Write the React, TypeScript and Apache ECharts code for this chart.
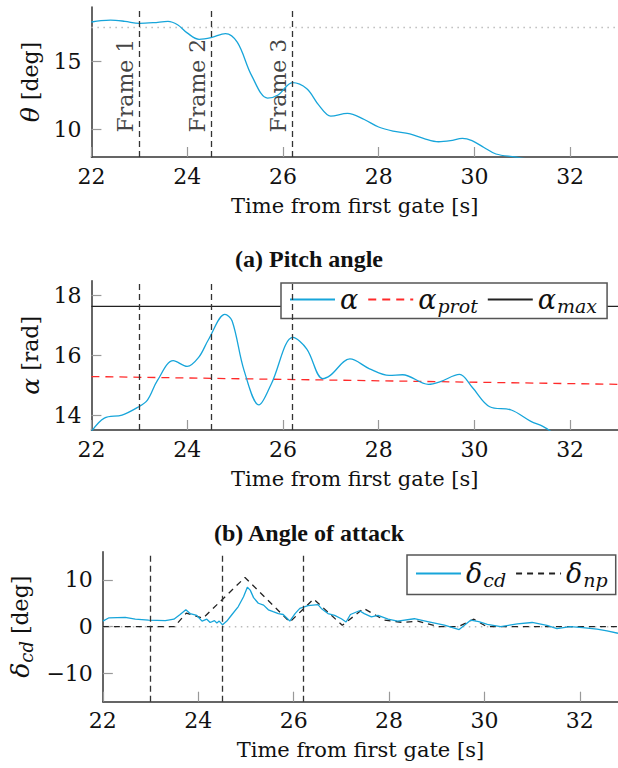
import React, { useEffect, useRef } from "react";
import * as echarts from "echarts";

// ---------- data ----------
const xTicks = [22, 24, 26, 28, 30, 32];
const timeSpanAB = [22, 33];
const timeSpanC = [22, 32.8];
const frameTimes = [23, 24.5, 26.2];
const frameNames = ["Frame 1", "Frame 2", "Frame 3"];
const frameLabelTheta = 9.8;

// (a) pitch angle
const thetaTime = [22.0, 22.2, 22.4, 22.7, 23.0, 23.3, 23.6, 23.8, 24.0, 24.25, 24.5, 24.8, 25.05, 25.35, 25.68, 25.9, 26.2, 26.5, 26.75, 27.0, 27.35, 27.7, 28.0, 28.3, 28.65, 28.95, 29.25, 29.5, 29.75, 29.95, 30.2, 30.45, 30.85, 31.2];
const thetaDeg = [17.9, 18.0, 18.04, 17.95, 17.8, 17.85, 17.95, 17.7, 17.1, 16.63, 16.75, 17.05, 16.4, 13.95, 12.32, 12.55, 13.45, 13.0, 11.8, 11.0, 11.2, 10.75, 10.2, 9.9, 9.7, 9.35, 9.12, 9.2, 9.37, 9.2, 8.7, 8.22, 8.0, 7.8];
const thetaRef = 17.5;
const thetaTicks = [10, 15];

// (b) angle of attack
const alphaTime = [22.0, 22.27, 22.64, 22.97, 23.17, 23.38, 23.71, 24.0, 24.24, 24.45, 24.79, 24.94, 25.19, 25.5, 25.76, 26.21, 26.5, 26.83, 26.99, 27.4, 27.81, 28.22, 28.5, 29.04, 29.29, 29.69, 29.95, 30.32, 30.77, 31.18, 31.43, 31.6, 31.8];
const alphaVal = [13.45, 13.9, 14.0, 14.26, 14.5, 15.16, 15.82, 15.63, 15.93, 16.54, 17.37, 17.15, 15.49, 14.34, 15.05, 16.6, 16.21, 15.22, 15.33, 15.88, 15.55, 15.33, 15.35, 15.03, 15.12, 15.36, 14.94, 14.28, 14.17, 13.79, 13.62, 13.45, 13.2];
const alphaProtVal = [15.29, 15.03];
const alphaMax = 17.64;
const alphaTicks = [14, 16, 18];

// (c) control deflection
const deltaCdTime = [22.0, 22.13, 22.47, 22.68, 22.96, 23.31, 23.49, 23.62, 23.74, 23.83, 23.97, 24.08, 24.18, 24.25, 24.34, 24.39, 24.44, 24.51, 24.6, 24.7, 24.84, 24.95, 25.03, 25.09, 25.16, 25.26, 25.37, 25.47, 25.57, 25.68, 25.78, 25.92, 26.03, 26.13, 26.3, 26.51, 26.58, 26.72, 26.86, 27.0, 27.1, 27.19, 27.38, 27.48, 27.63, 27.77, 27.98, 28.18, 28.53, 28.81, 29.16, 29.47, 29.71, 29.88, 30.06, 30.34, 30.69, 31.0, 31.31, 31.52, 31.8, 32.06, 32.36, 32.57, 32.8];
const deltaCdVal = [1.2, 1.9, 2.0, 1.6, 1.4, 1.3, 1.6, 2.6, 3.6, 2.8, 2.4, 1.2, 1.6, 0.9, 1.3, 0.8, 1.2, 0.4, 1.2, 2.5, 4.3, 6.4, 8.4, 7.8, 6.2, 5.0, 4.6, 3.6, 3.2, 2.8, 2.6, 1.2, 2.8, 3.9, 4.5, 4.7, 3.9, 2.8, 2.4, 1.7, 1.0, 2.6, 3.4, 2.8, 2.1, 2.4, 1.6, 1.2, 1.7, 1.1, 0.35, -0.6, 1.4, 1.1, 0.5, 0.0, 0.6, 0.9, 0.3, -0.4, 0.0, -0.2, -0.5, -0.9, -1.4];
const deltaNpTime = [22, 23.5, 23.75, 24.1, 24.98, 25.92, 26.42, 27.02, 27.47, 27.9, 28.3, 28.6, 29.05, 29.45, 29.78, 30.05, 32.8];
const deltaNpVal = [0, 0, 2.9, 1.8, 10.5, 1.0, 5.9, 0.3, 3.9, 1.4, 0.9, 1.2, 0, 0, 1.6, 0, 0];
const deltaTicks = [-10, 0, 10];

const legendLabels: Record<string, string> = {
  alpha: "{a|α}",
  alphaProt: "{a|α}{s|prot}",
  alphaMax: "{a|α}{s|max}",
  deltaCd: "{a|δ}{s|cd}",
  deltaNp: "{a|δ}{s|np}",
};

// ---------- styling ----------
const SERIF = "'DejaVu Serif', serif";
const BLUE = "#17a5da";
const INK = "#111";
const zip = (a: number[], b: number[]) => a.map((x, i) => [x, b[i]]);
const minus = (v: number) => String(v).replace("-", "\u2212");

const mathRich = {
  i: { fontFamily: SERIF, fontStyle: "italic", fontSize: 25, color: INK },
  s: { fontFamily: SERIF, fontStyle: "italic", fontSize: 18, color: INK, padding: [12, 0, 0, 0] },
};

function xAxis(gridIndex: number, max: number) {
  return {
    type: "value",
    gridIndex,
    min: 22,
    max,
    axisLine: { show: true, onZero: false, lineStyle: { color: "#333", width: 1.5 } },
    axisTick: { show: true, inside: true, length: 10, customValues: xTicks, lineStyle: { color: "#999", width: 1.2 } },
    axisLabel: { customValues: xTicks, margin: 8, color: INK, fontFamily: SERIF, fontSize: 22 },
    splitLine: { show: false },
    name: "Time from first gate [s]",
    nameLocation: "middle",
    nameGap: 38,
    nameTextStyle: { fontFamily: SERIF, fontSize: 21, color: INK },
  };
}

function yAxis(gridIndex: number, min: number, max: number, ticks: number[], name: string, gap: number) {
  return {
    type: "value",
    gridIndex,
    min,
    max,
    axisLine: { show: true, onZero: false, lineStyle: { color: "#333", width: 1.5 } },
    axisTick: { show: true, inside: true, length: 10, customValues: ticks, lineStyle: { color: "#999", width: 1.2 } },
    axisLabel: { customValues: ticks, margin: 10, color: INK, fontFamily: SERIF, fontSize: 22, formatter: minus },
    splitLine: { show: false },
    name,
    nameLocation: "middle",
    nameGap: gap,
    nameRotate: 90,
    nameTextStyle: { fontFamily: SERIF, fontSize: 22, color: INK, rich: mathRich },
  };
}

function frameMarks() {
  return {
    symbol: "none",
    silent: true,
    label: { show: false },
    lineStyle: { type: [6, 4], color: "#333", width: 1.3 },
    data: frameTimes.map((t) => ({ xAxis: t })),
  };
}

const legendBase = {
  orient: "horizontal",
  itemWidth: 45,
  itemHeight: 14,
  itemGap: 9,
  selectedMode: false,
  borderColor: "#555",
  borderWidth: 1.5,
  borderRadius: 0,
  backgroundColor: "#fff",
  itemStyle: { opacity: 0 },
  formatter: (name: string) => legendLabels[name],
  textStyle: {
    fontFamily: SERIF,
    color: INK,
    fontSize: 23,
    rich: {
      a: { fontFamily: SERIF, fontStyle: "italic", fontSize: 27, color: INK },
      s: { fontFamily: SERIF, fontStyle: "italic", fontSize: 19, color: INK, padding: [13, 0, 0, 1] },
    },
  },
};

export default function App() {
  const ref = useRef<HTMLDivElement>(null);
  useEffect(() => {
    if (!ref.current) return;
    const chart = echarts.init(ref.current, undefined, { renderer: "svg" });
    chart.setOption({
      animation: false,
      backgroundColor: "#fff",
      title: [
        { text: "(a) Pitch angle", left: "center", top: 247, padding: 0, textStyle: { fontFamily: "'Liberation Serif', serif", fontWeight: "bold", fontSize: 24, color: INK } },
        { text: "(b) Angle of attack", left: "center", top: 521, padding: 0, textStyle: { fontFamily: "'Liberation Serif', serif", fontWeight: "bold", fontSize: 24, color: INK } },
      ],
      grid: [
        { left: 91.4, right: 0, top: 7, height: 150 },
        { left: 91.4, right: 0, top: 280.7, height: 149.3 },
        { left: 100.5, right: 0, top: 551.7, height: 150 },
      ],
      xAxis: [xAxis(0, timeSpanAB[1]), xAxis(1, timeSpanAB[1]), xAxis(2, timeSpanC[1])],
      yAxis: [
        yAxis(0, 8, 19, thetaTicks, "{i|θ} [deg]", 47),
        yAxis(1, 13.5, 18.5, alphaTicks, "{i|α} [rad]", 47),
        yAxis(2, -16, 16, deltaTicks, "{i|δ}{s|cd} [deg]", 64),
      ],
      legend: [
        { ...legendBase, data: ["alpha", "alphaProt", "alphaMax"], left: 281, top: 283, padding: [3, 10, 3, 8] },
        { ...legendBase, data: ["deltaCd", "deltaNp"], left: 407, top: 555, padding: [5, 8, 5, 8] },
      ],
      series: [
        {
          name: "thetaRef", type: "line", xAxisIndex: 0, yAxisIndex: 0, symbol: "none", silent: true,
          data: timeSpanAB.map((t) => [t, thetaRef]),
          lineStyle: { color: "#bbb", width: 1.5, type: [1.5, 4.5] },
        },
        {
          name: "theta", type: "line", xAxisIndex: 0, yAxisIndex: 0, symbol: "none", smooth: 0.35,
          data: zip(thetaTime, thetaDeg),
          lineStyle: { color: BLUE, width: 1.3 },
          markLine: frameMarks(),
        },
        {
          name: "frames", type: "scatter", xAxisIndex: 0, yAxisIndex: 0, symbolSize: 0, silent: true,
          data: frameTimes.map((t) => [t, frameLabelTheta]),
          label: {
            show: true, position: "inside", rotate: 90, align: "left", verticalAlign: "bottom",
            formatter: (p: any) => frameNames[p.dataIndex],
            fontFamily: SERIF, fontSize: 22, color: INK, offset: [0, -3],
          },
        },
        {
          name: "alphaProt", type: "line", xAxisIndex: 1, yAxisIndex: 1, symbol: "none",
          data: zip(timeSpanAB, alphaProtVal),
          lineStyle: { color: "#ff2a2a", width: 1.3, type: [8, 6] },
          itemStyle: { color: "#ff2a2a" },
        },
        {
          name: "alphaMax", type: "line", xAxisIndex: 1, yAxisIndex: 1, symbol: "none",
          data: timeSpanAB.map((t) => [t, alphaMax]),
          lineStyle: { color: "#222", width: 1.3 },
          itemStyle: { color: "#222" },
        },
        {
          name: "alpha", type: "line", xAxisIndex: 1, yAxisIndex: 1, symbol: "none", smooth: 0.35,
          data: zip(alphaTime, alphaVal),
          lineStyle: { color: BLUE, width: 1.3 },
          itemStyle: { color: BLUE },
          markLine: frameMarks(),
        },
        {
          name: "deltaZero", type: "line", xAxisIndex: 2, yAxisIndex: 2, symbol: "none", silent: true,
          data: timeSpanC.map((t) => [t, 0]),
          lineStyle: { color: "#bbb", width: 1.5, type: [1.5, 4.5] },
        },
        {
          name: "deltaNp", type: "line", xAxisIndex: 2, yAxisIndex: 2, symbol: "none",
          data: zip(deltaNpTime, deltaNpVal),
          lineStyle: { color: "#222", width: 1.3, type: [6, 5] },
          itemStyle: { color: "#222" },
        },
        {
          name: "deltaCd", type: "line", xAxisIndex: 2, yAxisIndex: 2, symbol: "none",
          data: zip(deltaCdTime, deltaCdVal),
          lineStyle: { color: BLUE, width: 1.3 },
          itemStyle: { color: BLUE },
          markLine: frameMarks(),
        },
      ],
    });
    return () => chart.dispose();
  }, []);
  return (
    <div
      ref={ref}
      style={{ position: "absolute", left: 0, top: 0, width: 618, height: 768, background: "#fff" }}
    />
  );
}
